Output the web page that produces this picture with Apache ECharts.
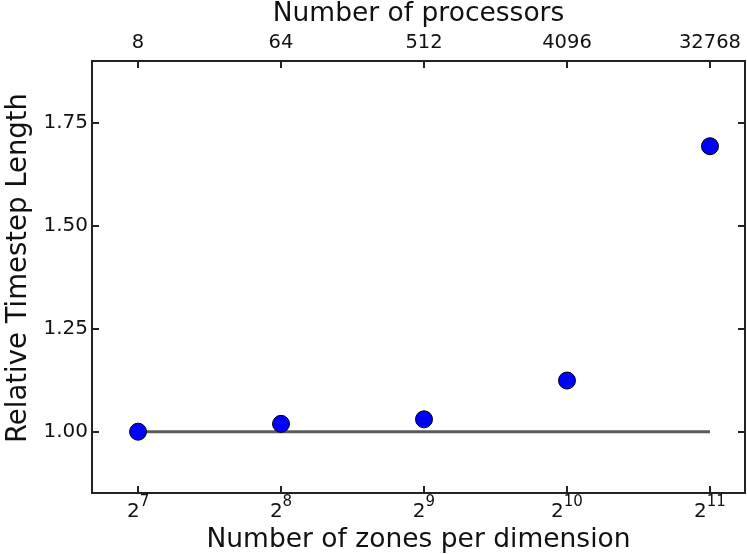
<!DOCTYPE html>
<html><head><meta charset="utf-8">
<script src="https://cdn.jsdelivr.net/npm/echarts@6/dist/echarts.min.js"></script>
<style>html,body{margin:0;padding:0;background:#fff}#c{width:747px;height:554px}</style>
</head><body><div id="c"></div>
<script>
var zoneExponents = [7, 8, 9, 10, 11];
var processors = [8, 64, 512, 4096, 32768];
var relTimestep = [1.000, 1.019, 1.030, 1.124, 1.692];
var refLineX = [7, 11];
var refLineY = [1.0, 1.0];
var yTicks = [1.00, 1.25, 1.50, 1.75];

var font = 'DejaVu Sans';
var chart = echarts.init(document.getElementById('c'));
var axisCommon = {
  type: 'value', min: 6.678, max: 11.245,
  axisLine: { show: true, lineStyle: { color: '#222', width: 2 } },
  axisTick: { show: true, inside: true, length: 7, lineStyle: { color: '#222', width: 2 }, customValues: zoneExponents },
  splitLine: { show: false }
};
chart.setOption({
  animation: false,
  grid: { left: 92, right: 2, top: 61, bottom: 61, show: false, outerBoundsMode: 'none', containLabel: false },
  xAxis: [
    Object.assign({}, axisCommon, {
      position: 'bottom',
      name: 'Number of zones per dimension', nameLocation: 'middle', nameGap: 33,
      nameTextStyle: { fontFamily: font, fontSize: 26.5, color: '#111', verticalAlign: 'top' },
      axisLabel: {
        customValues: zoneExponents, margin: 2,
        formatter: function (v) { return '{b|2}{s|' + Math.round(v) + '}'; },
        rich: {
          b: { fontFamily: font, fontSize: 20, color: '#111', verticalAlign: 'bottom', padding: [7, 0, 0, 0] },
          s: { fontFamily: font, fontSize: 15, color: '#111', verticalAlign: 'top', padding: [0, 0, 9, 0] }
        }
      }
    }),
    Object.assign({}, axisCommon, {
      position: 'top',
      name: 'Number of processors', nameLocation: 'middle', nameGap: 28,
      nameTextStyle: { fontFamily: font, fontSize: 26.5, color: '#111', verticalAlign: 'bottom' },
      axisLabel: {
        customValues: zoneExponents, margin: 8,
        fontFamily: font, fontSize: 19.5, color: '#111',
        formatter: function (v) { return String(processors[zoneExponents.indexOf(Math.round(v))]); }
      }
    })
  ],
  yAxis: [
    {
      type: 'value', min: 0.8514, max: 1.8986, position: 'left',
      name: 'Relative Timestep Length', nameLocation: 'middle', nameGap: 51, nameRotate: 90,
      nameTextStyle: { fontFamily: font, fontSize: 27.5, color: '#111', verticalAlign: 'bottom', padding: [0, 0, 0, 18] },
      axisLine: { show: true, lineStyle: { color: '#222', width: 2 } },
      axisTick: { show: true, inside: true, length: 7, lineStyle: { color: '#222', width: 2 }, customValues: yTicks },
      axisLabel: { customValues: yTicks, fontFamily: font, fontSize: 20, color: '#111', margin: 4,
        formatter: function (v) { return v.toFixed(2); } },
      splitLine: { show: false }
    },
    {
      type: 'value', min: 0.8514, max: 1.8986, position: 'right',
      axisLine: { show: true, lineStyle: { color: '#222', width: 2 } },
      axisTick: { show: true, inside: true, length: 7, lineStyle: { color: '#222', width: 2 }, customValues: yTicks },
      axisLabel: { show: false },
      splitLine: { show: false }
    }
  ],
  series: [
    {
      type: 'line', xAxisIndex: 0, yAxisIndex: 0,
      data: refLineX.map(function (x, i) { return [x, refLineY[i]]; }),
      symbol: 'none', lineStyle: { color: '#5a5a5a', width: 3 }, z: 1
    },
    {
      type: 'scatter', xAxisIndex: 0, yAxisIndex: 0,
      data: zoneExponents.map(function (x, i) { return [x, relTimestep[i]]; }),
      symbolSize: 17,
      itemStyle: { color: '#0000ff', borderColor: '#000', borderWidth: 1, opacity: 1 }, z: 3
    }
  ]
});
</script></body></html>
